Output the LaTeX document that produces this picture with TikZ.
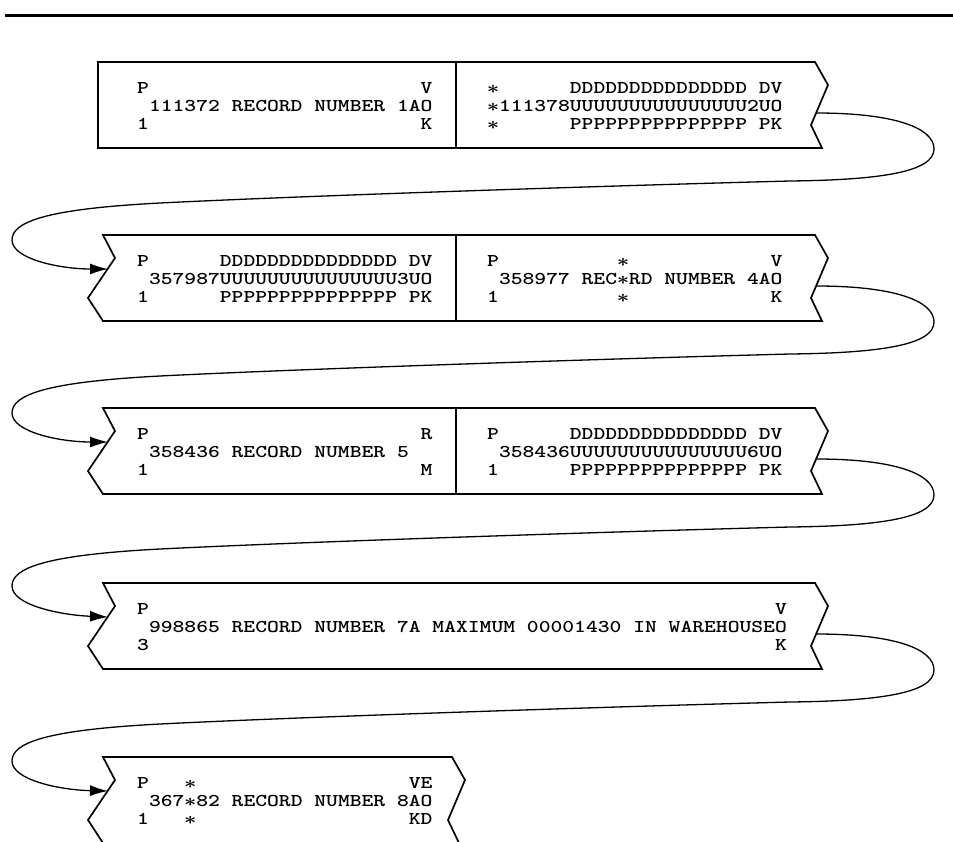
\documentclass[tikz,border=0pt]{standalone}
\usepackage{graphicx}
\usetikzlibrary{arrows.meta}
\newcommand{\tapefont}{\ttfamily\bfseries\fontsize{18}{18}\selectfont}
\newcommand{\gap}[1]{\hspace*{#1\fontdimen2\font}}
\newcommand{\sx}{\makebox[\fontdimen2\font]{\boldmath$\ast$}}
\newcommand{\tape}[3]{\scalebox{1.25}[1]{\begin{tabular}{@{}l@{}}#1\\#2\\#3\end{tabular}}}
\tikzset{
  record/.style={line width=1.7pt, line join=miter},
  tapetext/.style={anchor=north west, inner sep=0pt, font=\tapefont},
  link/.style={line width=1.3pt, -{Latex[length=18pt,width=11pt]}},
  torn left/.style={insert path={-- ++(-15,-23) -- ++(27,-40) -- ++(-12,-23)}},
  torn right/.style={insert path={-- ++(13,23) -- ++(-17,40) -- ++(11,23)}},
}
\begin{document}
\begin{tikzpicture}[x=1pt,y=-1pt]
  \useasboundingbox (0,0) rectangle (953,841);
  \draw[line width=3pt] (5,15) -- (953,15);

  % records 1 and 2
  \draw[record] (98,62) -- (815,62) [torn right] -- (98,148) -- cycle;
  \draw[record] (456,62) -- (456,148);
  \node[tapetext] (rec1) at (137,81) {\tape{P\gap{23}V}{\gap{1}111372 RECORD NUMBER 1AO}{1\gap{23}K}};
  \node[tapetext] (rec2) at (487,81) {\tape{\sx\gap{6}DDDDDDDDDDDDDDD\gap{1}DV}{\sx111378UUUUUUUUUUUUUUU2UO}{\sx\gap{6}PPPPPPPPPPPPPPP\gap{1}PK}};

  % records 3 and 4
  \draw[record] (103,235) -- (815,235) [torn right] -- (103,321) [torn left] -- cycle;
  \draw[record] (456,235) -- (456,321);
  \node[tapetext] (rec3) at (137,254) {\tape{P\gap{6}DDDDDDDDDDDDDDD\gap{1}DV}{\gap{1}357987UUUUUUUUUUUUUUU3UO}{1\gap{6}PPPPPPPPPPPPPPP\gap{1}PK}};
  \node[tapetext] (rec4) at (487,254) {\tape{P\gap{10}\sx\gap{12}V}{\gap{1}358977 REC\sx RD NUMBER 4AO}{1\gap{10}\sx\gap{12}K}};

  % records 5 and 6
  \draw[record] (103,408) -- (815,408) [torn right] -- (103,494) [torn left] -- cycle;
  \draw[record] (456,408) -- (456,494);
  \node[tapetext] (rec5) at (137,427) {\tape{P\gap{23}R}{\gap{1}358436 RECORD NUMBER 5}{1\gap{23}M}};
  \node[tapetext] (rec6) at (487,427) {\tape{P\gap{6}DDDDDDDDDDDDDDD\gap{1}DV}{\gap{1}358436UUUUUUUUUUUUUUU6UO}{1\gap{6}PPPPPPPPPPPPPPP\gap{1}PK}};

  % record 7
  \draw[record] (103,583) -- (815,583) [torn right] -- (103,669) [torn left] -- cycle;
  \node[tapetext] (rec7) at (137,602) {\tape{P\gap{53}V}{\gap{1}998865 RECORD NUMBER 7A MAXIMUM 00001430 IN WAREHOUSEO}{3\gap{53}K}};

  % record 8
  \draw[record] (103,757) -- (452,757) [torn right] -- (103,843) [torn left] -- cycle;
  \node[tapetext] (rec8) at (137,776) {\tape{P\gap{3}\sx\gap{18}VE}{\gap{1}367\sx82 RECORD NUMBER 8AO}{1\gap{3}\sx\gap{18}KD}};

  % chaining
  \coordinate (out1) at (816,113);
  \coordinate (out2) at (816,286);
  \coordinate (out3) at (816,459);
  \coordinate (out4) at (816,634);
  \coordinate (in2) at (108,269);
  \coordinate (in3) at (108,442);
  \coordinate (in4) at (108,617);
  \coordinate (in5) at (108,791);
  \foreach \a/\b/\t in {out1/in2/62, out2/in3/235, out3/in4/408, out4/in5/583}
    \draw[link] (\a) .. controls (895,\t+51) and (934,\t+66) .. (934,\t+87)
      .. controls (934,\t+110) and (880,\t+118) .. (790,\t+119)
      .. controls (600,\t+124) and (300,\t+134) .. (160,\t+141)
      .. controls (45,\t+147) and (12,\t+160) .. (12,\t+178)
      .. controls (12,\t+197) and (60,\t+207) .. (\b);
\end{tikzpicture}
\end{document}
